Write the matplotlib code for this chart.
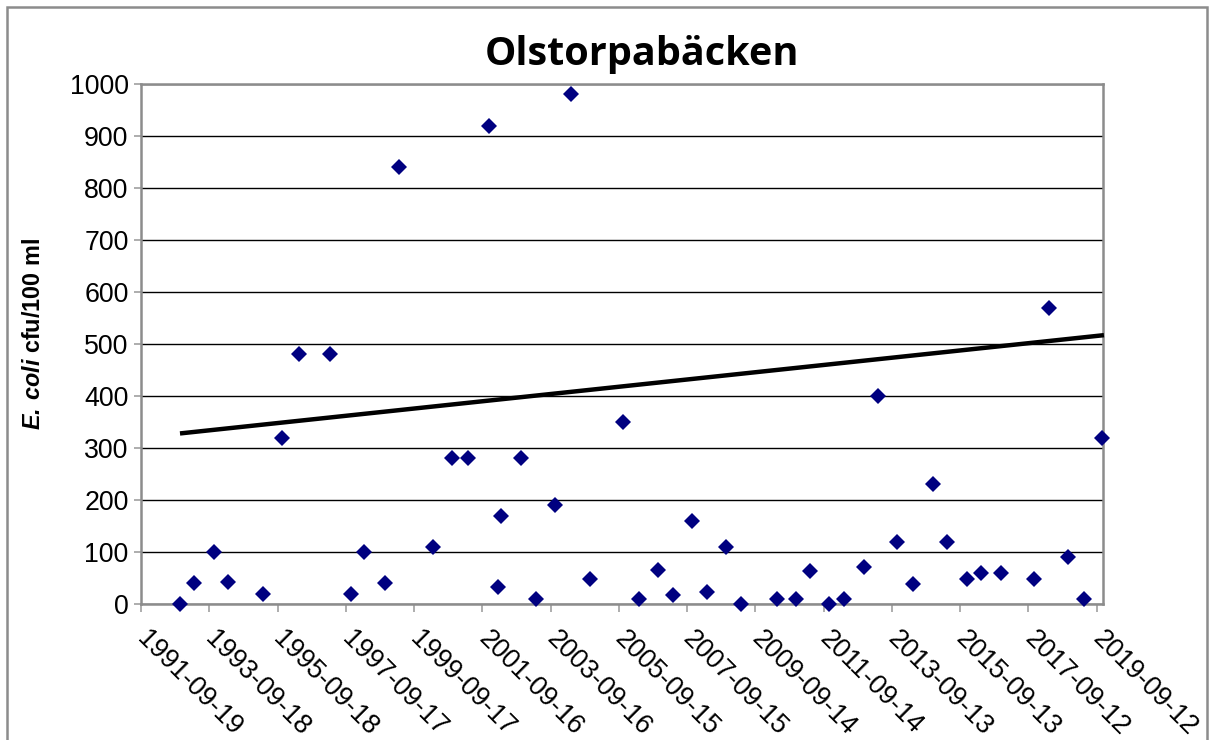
import matplotlib
matplotlib.use("Agg")
import matplotlib.pyplot as plt
import matplotlib.dates as mdates
from matplotlib.patches import Rectangle
from matplotlib.transforms import ScaledTranslation
import numpy as np
import pandas as pd

plt.rcParams['mathtext.fontset'] = 'custom'
plt.rcParams['mathtext.bfit'] = 'Liberation Sans:italic:bold'
plt.rcParams['mathtext.rm'] = 'Liberation Sans'
plt.rcParams['mathtext.bf'] = 'Liberation Sans:bold'

title = "Olstorpabäcken"
ylabel = r"$\mathbfit{E.}\,\mathbfit{coli}$ cfu/100 ml"

dates = ["1992-11-09", "1993-04-10", "1993-11-04", "1994-04-09", "1995-04-17",
         "1995-11-03", "1996-04-30", "1997-04-02", "1997-11-09", "1998-03-31",
         "1998-11-11", "1999-04-09", "2000-04-07", "2000-10-31", "2001-04-15",
         "2001-11-30", "2002-03-06", "2002-03-31", "2002-11-07", "2003-04-12",
         "2003-11-01", "2004-04-17", "2004-11-09", "2005-10-27", "2006-04-21",
         "2006-11-10", "2007-04-19", "2007-11-08", "2008-04-16", "2008-11-05",
         "2009-04-17", "2010-05-07", "2010-11-26", "2011-04-25", "2011-11-14",
         "2012-04-22", "2012-11-25", "2013-04-23", "2013-11-09", "2014-04-26",
         "2014-11-25", "2015-04-30", "2015-11-30", "2016-04-24", "2016-11-21",
         "2017-11-15", "2018-04-24", "2018-11-13", "2019-04-30", "2019-11-11"]
ecoli = [0, 40, 100, 42, 20,
         320, 480, 480, 20, 100,
         40, 840, 110, 280, 280,
         920, 33, 170, 280, 10,
         190, 980, 48, 350, 9,
         65, 17, 160, 23, 110,
         0, 9, 10, 63, 0,
         9, 72, 400, 119, 39,
         230, 119, 49, 60, 60,
         49, 570, 90, 9, 320]

# trend line as drawn in the reference (start / end)
trend_dates = ["1992-11-09", "2019-11-30"]
trend_values = [328, 517]

tick_labels = ["1991-09-19", "1993-09-18", "1995-09-18", "1997-09-17", "1999-09-17",
               "2001-09-16", "2003-09-16", "2005-09-15", "2007-09-15", "2009-09-14",
               "2011-09-14", "2013-09-13", "2015-09-13", "2017-09-12", "2019-09-12"]
x_min, x_max = "1991-09-19", "2019-11-20"
y_ticks = list(range(0, 1001, 100))

W, H = 1213, 740
fig = plt.figure(figsize=(W / 100, H / 100), dpi=100)
ax = fig.add_axes([141 / W, 1 - 604 / H, (1103 - 141) / W, (604 - 84) / H])

xd = mdates.date2num(pd.to_datetime(dates))
y = np.array(ecoli, dtype=float)
xt = mdates.date2num(pd.to_datetime(trend_dates))

ax.plot(xt, trend_values, color='black', lw=3.2, zorder=3, solid_capstyle='butt', clip_on=False)

ax.plot(xd, y, linestyle='none', marker='D', markersize=7.8, color='#000080',
        markeredgewidth=0, zorder=4, clip_on=False)

ax.set_xlim(mdates.date2num(pd.Timestamp(x_min)), mdates.date2num(pd.Timestamp(x_max)))
ax.set_ylim(0, 1000)
ax.set_yticks(y_ticks)
ax.set_yticklabels([str(v) for v in y_ticks], fontsize=19.3, family='Liberation Sans')
ax.yaxis.grid(True, color='black', lw=1.0)
ax.set_axisbelow(True)

tpos = mdates.date2num(pd.to_datetime(tick_labels))
ax.set_xticks(tpos)
ax.set_xticklabels(tick_labels, rotation=-45, ha='left', va='top', rotation_mode='anchor',
                   fontsize=19.3, family='Liberation Sans')
ax.tick_params(axis='x', direction='out', length=6, color='#a0a0a0', width=1.2, pad=10)
ax.tick_params(axis='y', direction='out', length=5, color='#a0a0a0', width=1.2, pad=4)
offset = ScaledTranslation(9 / 100, 0, fig.dpi_scale_trans)
for lab in ax.get_xticklabels():
    lab.set_transform(lab.get_transform() + offset)

for sp in ax.spines.values():
    sp.set_color('#8c8c8c')
    sp.set_linewidth(1.8)

ax.set_ylabel(ylabel, fontsize=16.8, fontweight='bold', family='Liberation Sans')
ax.yaxis.set_label_coords(-96 / (1103 - 141), (604 - 334) / 520)

fig.text(642 / W, 1 - 55 / H, title, ha='center', va='center', fontsize=28.5,
         fontweight='bold', family='Open Sans')

fig.patches.append(Rectangle((7 / W, -0.05), (1207 - 7) / W, 1.05 - 7 / H,
                             transform=fig.transFigure, fill=False,
                             edgecolor='#8c8c8c', lw=1.8))

fig.savefig("out.png", dpi=100)
